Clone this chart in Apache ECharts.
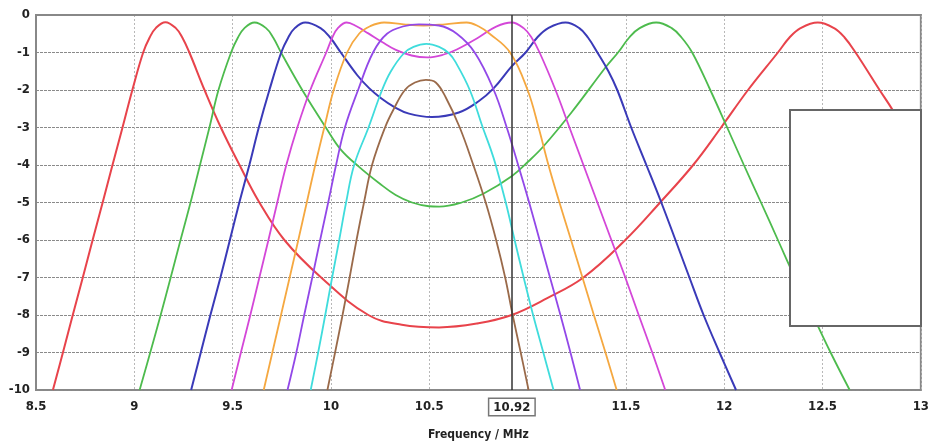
<!DOCTYPE html>
<html>
<head>
<meta charset="utf-8">
<script src="https://cdn.jsdelivr.net/npm/echarts@6/dist/echarts.min.js"></script>
<style>
html,body{margin:0;padding:0;background:#fff;}
#chart{width:932px;height:446px;}
</style>
</head>
<body>
<div id="chart"></div>
<script>
// ---- data (frequency MHz, response dB) ----
const xTicks = [8.5, 9, 9.5, 10, 10.5, 11, 11.5, 12, 12.5, 13];
const yTicks = [0, -1, -2, -3, -4, -5, -6, -7, -8, -9, -10];
const cursorX = 10.92;
const xAxisName = 'Frequency / MHz';

const redCurve = [[8.586,-10],[8.637,-9],[8.687,-8],[8.738,-7],[8.788,-6],[8.839,-5],[8.889,-4],[8.94,-3],[8.99,-2],[9.045,-1],[9.078,-0.6],[9.109,-0.35],[9.158,-0.19],[9.211,-0.35],[9.244,-0.6],[9.28,-1],[9.357,-2],[9.44,-3],[9.535,-4],[9.636,-5],[9.763,-6],[9.95,-7],[10.19,-8],[10.36,-8.26],[10.55,-8.33],[10.75,-8.22],[10.919,-8.0],[11.1,-7.55],[11.284,-7],[11.497,-6],[11.674,-5],[11.842,-4],[11.984,-3],[12.121,-2],[12.273,-1],[12.332,-0.6],[12.388,-0.35],[12.476,-0.2],[12.559,-0.35],[12.612,-0.6],[12.668,-1],[12.79,-2],[12.856,-2.53],[12.93,-3.2],[13.0,-3.94]];
const greenCurve = [[9.027,-10],[9.081,-9],[9.134,-8],[9.185,-7],[9.235,-6],[9.286,-5],[9.334,-4],[9.382,-3],[9.428,-2],[9.492,-1],[9.527,-0.6],[9.56,-0.35],[9.611,-0.2],[9.67,-0.35],[9.706,-0.6],[9.746,-1],[9.854,-2],[9.974,-3],[10.05,-3.59],[10.143,-4.05],[10.244,-4.48],[10.329,-4.8],[10.412,-5.0],[10.498,-5.1],[10.55,-5.11],[10.665,-5.0],[10.777,-4.76],[10.919,-4.3],[11.005,-3.9],[11.081,-3.5],[11.223,-2.6],[11.396,-1.4],[11.46,-1],[11.517,-0.6],[11.57,-0.35],[11.654,-0.2],[11.733,-0.35],[11.783,-0.6],[11.837,-1],[11.929,-2],[12.015,-3],[12.1,-4],[12.187,-5],[12.273,-6],[12.359,-7],[12.45,-8],[12.541,-9],[12.638,-10]];
const blueCurve = [[9.289,-10],[9.338,-9],[9.387,-8],[9.438,-7],[9.486,-6],[9.534,-5],[9.585,-4],[9.633,-3],[9.687,-2],[9.747,-1],[9.783,-0.6],[9.816,-0.35],[9.869,-0.2],[9.947,-0.35],[9.996,-0.6],[10.05,-1.0],[10.133,-1.6],[10.194,-1.95],[10.255,-2.22],[10.321,-2.45],[10.397,-2.63],[10.513,-2.72],[10.65,-2.6],[10.751,-2.3],[10.828,-1.95],[10.919,-1.37],[10.99,-1.0],[11.049,-0.6],[11.105,-0.35],[11.193,-0.2],[11.263,-0.35],[11.307,-0.6],[11.355,-1],[11.411,-1.5],[11.456,-2],[11.527,-3],[11.604,-4],[11.68,-5],[11.752,-6],[11.823,-7],[11.895,-8],[11.976,-9],[12.06,-10]];
const magentaCurve = [[9.495,-10],[9.542,-9],[9.59,-8],[9.636,-7],[9.682,-6],[9.727,-5],[9.773,-4],[9.829,-3],[9.895,-2],[9.976,-1],[10.007,-0.6],[10.035,-0.35],[10.08,-0.2],[10.13,-0.3],[10.19,-0.49],[10.26,-0.72],[10.33,-0.93],[10.41,-1.08],[10.49,-1.13],[10.57,-1.06],[10.64,-0.92],[10.75,-0.6],[10.84,-0.31],[10.919,-0.2],[10.98,-0.35],[11.02,-0.6],[11.061,-1],[11.142,-2],[11.213,-3],[11.284,-4],[11.355,-5],[11.426,-6],[11.497,-7],[11.565,-8],[11.634,-9],[11.7,-10]];
const orangeCurve = [[9.658,-10],[9.702,-9],[9.746,-8],[9.79,-7],[9.834,-6],[9.877,-5],[9.92,-4],[9.966,-3],[10.014,-2],[10.082,-1],[10.143,-0.5],[10.199,-0.3],[10.27,-0.2],[10.37,-0.25],[10.47,-0.28],[10.58,-0.25],[10.69,-0.2],[10.75,-0.3],[10.807,-0.5],[10.911,-1],[11.0,-2],[11.056,-3],[11.106,-4],[11.162,-5],[11.221,-6],[11.279,-7],[11.337,-8],[11.396,-9],[11.453,-10]];
const purpleCurve = [[9.779,-10],[9.824,-9],[9.864,-8],[9.905,-7],[9.945,-6],[9.986,-5],[10.026,-4],[10.071,-3],[10.138,-2],[10.214,-1],[10.285,-0.5],[10.371,-0.3],[10.447,-0.25],[10.549,-0.28],[10.64,-0.5],[10.731,-1],[10.828,-2],[10.894,-3],[10.952,-4],[11.008,-5],[11.061,-6],[11.114,-7],[11.167,-8],[11.218,-9],[11.267,-10]];
const cyanCurve = [[9.897,-10],[9.935,-9],[9.971,-8],[10.006,-7],[10.042,-6],[10.077,-5],[10.118,-4],[10.191,-3],[10.26,-2],[10.305,-1.5],[10.371,-1.02],[10.42,-0.85],[10.485,-0.77],[10.55,-0.85],[10.6,-1.02],[10.633,-1.25],[10.706,-2],[10.772,-3],[10.813,-3.59],[10.838,-4],[10.889,-5],[10.934,-6],[10.98,-7],[11.028,-8],[11.08,-9],[11.132,-10]];
const brownCurve = [[9.982,-10],[10.021,-9],[10.059,-8],[10.095,-7],[10.13,-6],[10.168,-5],[10.209,-4],[10.275,-3],[10.32,-2.5],[10.376,-2],[10.427,-1.8],[10.483,-1.73],[10.533,-1.8],[10.584,-2.2],[10.655,-3],[10.724,-4],[10.787,-5],[10.84,-6],[10.886,-7],[10.924,-8],[10.965,-9],[11.005,-10]];

const seriesDefs = [
  {name:'red', data:redCurve, color:'#e8434b', width:2},
  {name:'green', data:greenCurve, color:'#4dbb4d', width:1.8},
  {name:'blue', data:blueCurve, color:'#3a3ab8', width:2},
  {name:'magenta', data:magentaCurve, color:'#d447d8', width:1.8},
  {name:'orange', data:orangeCurve, color:'#f5a840', width:1.8},
  {name:'purple', data:purpleCurve, color:'#9248e8', width:1.8},
  {name:'cyan', data:cyanCurve, color:'#3fdcdc', width:1.8},
  {name:'brown', data:brownCurve, color:'#9a6a4a', width:1.8}
];

const FONT = '"DejaVu Sans Condensed", "Liberation Sans Narrow", "DejaVu Sans", sans-serif';
const chart = echarts.init(document.getElementById('chart'));

const series = seriesDefs.map(s => ({
  name: s.name, type: 'line', data: s.data, smooth: 0.4, symbol: 'none',
  lineStyle: {color: s.color, width: s.width}, itemStyle: {color: s.color},
  clip: true, z: 3
}));
series.push({
  name: 'cursor', type: 'line', data: [], symbol: 'none', z: 4,
  markLine: {
    silent: true, symbol: 'none', animation: false,
    lineStyle: {color: '#333', width: 1.5, type: 'solid'},
    label: {
      show: true, position: 'start', distance: 9, formatter: String(cursorX),
      color: '#222', fontFamily: FONT, fontWeight: 'bold', fontSize: 13,
      backgroundColor: '#fff', borderColor: '#777', borderWidth: 1.5, padding: [2, 4, 1, 4]
    },
    data: [{xAxis: cursorX}]
  }
});

chart.setOption({
  animation: false,
  backgroundColor: '#fff',
  grid: {left: 36, right: 8, top: 15, bottom: 55, show: true, borderColor: '#888', borderWidth: 2},
  xAxis: {
    type: 'value', min: xTicks[0], max: xTicks[xTicks.length-1], interval: 0.5,
    name: xAxisName, nameLocation: 'middle', nameGap: 39,
    nameTextStyle: {color: '#222', fontFamily: FONT, fontWeight: 'bold', fontSize: 12},
    axisLine: {show: true, lineStyle: {color: '#888', width: 2}},
    axisTick: {show: false},
    axisLabel: {
      color: '#222', fontFamily: FONT, fontWeight: 'bold', fontSize: 13, margin: 10,
      formatter: v => (Math.abs(v - 11) < 1e-9 ? '' : String(+v.toFixed(2)))
    },
    splitLine: {show: true, lineStyle: {color: '#b8b8b8', type: [2, 2], width: 1}}
  },
  yAxis: {
    type: 'value', min: yTicks[yTicks.length-1], max: yTicks[0], interval: 1,
    axisLine: {show: true, lineStyle: {color: '#888', width: 2}},
    axisTick: {show: false},
    axisLabel: {color: '#222', fontFamily: FONT, fontWeight: 'bold', fontSize: 13, margin: 6},
    splitLine: {show: true, lineStyle: {color: '#8a8a8a', type: [3, 1], width: 1}}
  },
  graphic: [{
    type: 'rect', left: 789, top: 109, z: 100,
    shape: {width: 131, height: 216},
    style: {fill: '#fff', stroke: '#666', lineWidth: 2}
  }],
  series: series
});
</script>
</body>
</html>
